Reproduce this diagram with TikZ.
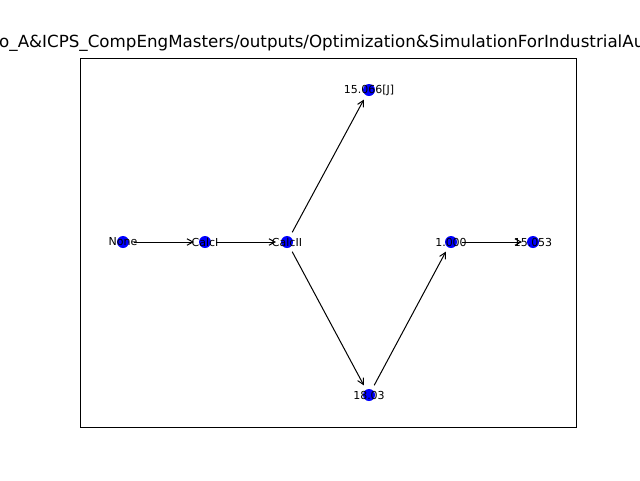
\documentclass[tikz,border=0pt]{standalone}
\usepackage{fontspec}
\setmainfont{DejaVu Sans}
\usetikzlibrary{arrows.meta}
\begin{document}
\begin{tikzpicture}[x=1pt,y=-1pt,
  dot/.style={circle,fill=blue,draw=none,minimum size=12pt,inner sep=0pt},
  lbl/.style={font=\fontsize{11}{11}\selectfont,inner sep=0pt,text=black},
  edge/.style={draw=black,line width=1pt,-{Straight Barb[length=6pt,width=6.5pt]},shorten <=11pt,shorten >=11pt}]
\useasboundingbox (0,0) rectangle (640,480);
\fill[white] (0,0) rectangle (640,480);
\draw[line width=1pt] (80,58) rectangle (576,427);
\node[font=\fontsize{16.7}{16.7}\selectfont,anchor=base west,inner sep=0pt] (title) at (-1,47) {o\_A\&ICPS\_CompEngMasters/outputs/Optimization\&SimulationForIndustrialAu};
\node[dot] (n1) at (123,242) {};
\node[dot] (n2) at (205,242) {};
\node[dot] (n3) at (287,242) {};
\node[dot] (n4) at (369,90) {};
\node[dot] (n5) at (369,395) {};
\node[dot] (n6) at (451,242) {};
\node[dot] (n7) at (533,242) {};
\node[lbl] (l1) at (n1) {None};
\node[lbl] (l2) at (n2) {CalcI};
\node[lbl] (l3) at (n3) {CalcII};
\node[lbl] (l4) at (n4) {15.066[J]};
\node[lbl] (l5) at (n5) {18.03};
\node[lbl] (l6) at (n6) {1.000};
\node[lbl] (l7) at (n7) {15.053};
\draw[edge] (n1.center) -- (n2.center);
\draw[edge] (n2.center) -- (n3.center);
\draw[edge] (n3.center) -- (n4.center);
\draw[edge] (n3.center) -- (n5.center);
\draw[edge] (n5.center) -- (n6.center);
\draw[edge] (n6.center) -- (n7.center);
\end{tikzpicture}
\end{document}
